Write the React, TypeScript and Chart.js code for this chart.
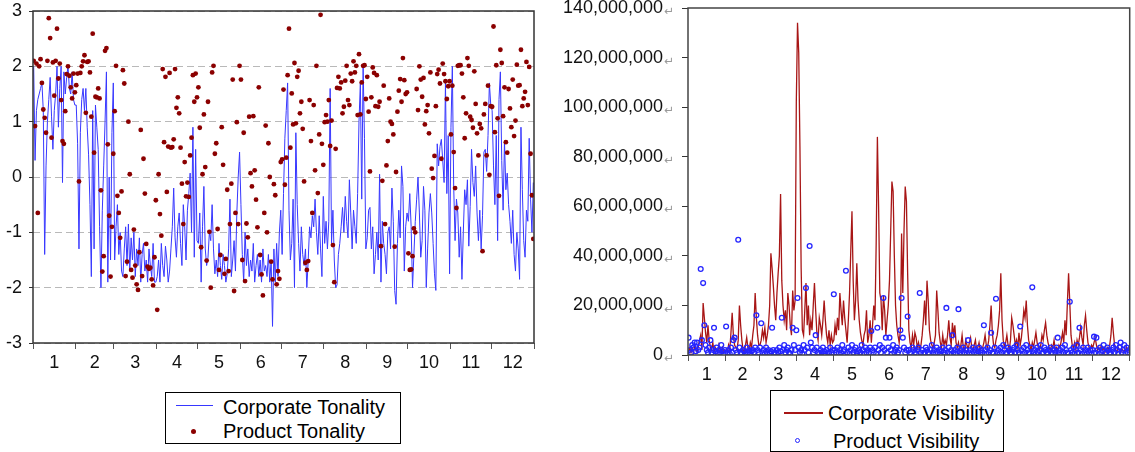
import React, { useEffect, useRef } from 'react';
import { Chart, registerables } from 'chart.js';

Chart.register(...registerables);

// ---------- data ----------
const MONTH_LABELS = ['1', '2', '3', '4', '5', '6', '7', '8', '9', '10', '11', '12'];
const MONTH_DAYS = [31, 28, 31, 30, 31, 30, 31, 31, 30, 31, 30, 31];
const TONALITY_TICKS = [-3, -2, -1, 0, 1, 2, 3];
const VISIBILITY_TICKS = [0, 20000000, 40000000, 60000000, 80000000, 100000000, 120000000, 140000000];

const CORPORATE_TONALITY = [
  // Jan
  2.0, 0.3, 1.2, 1.4, 1.5, 1.6, 1.7, 1.2, -1.4, 0.2, 1.0, 1.4, 1.8, 1.1, 0.5, 1.2, 1.5, 2.0, 0.9, 1.6,
  2.0, -0.1, 1.9, 1.5, 1.8, 2.0, 1.6, 1.5, 1.9, 1.4, 1.3,
  // Feb
  1.3, 0.6, -1.3, 0.8, 1.4, 1.6, 1.2, 1.6, 0.9, 0.4, -0.5, -1.8, 1.2, -1.3, 1.3, 0.9, 0.5, -0.9, -2.0, -0.6,
  0.2, 1.0, 1.9, -1.9, 0.0, -1.5, 0.8, 1.7,
  // Mar
  -1.5, -0.9, -0.5, -1.4, -1.0, -1.7, -1.8, -1.3, -0.9, -1.6, -0.85, -1.7, -1.1, -1.5, -1.0, -1.8, -1.3, -1.6, -1.1, -1.9,
  -1.4, -1.2, -1.7, -1.5, -1.9, -1.3, -1.6, -1.8, -1.2, -1.9, -1.9,
  // Apr
  -1.8, -1.5, -1.9, -1.2, -1.6, -1.8, -1.25, -1.5, -1.9, -1.7, -1.3, -0.9, -0.2, -1.1, -1.45, -0.9, -0.65, -1.2, -1.6, -0.5,
  -0.9, -1.5, -0.6, -0.3, 0.07, -1.0, 0.9, -1.45, 0.5, -1.15,
  // May
  -1.2, -0.65, -1.9, -0.9, -0.17, -1.3, -1.6, -1.45, -1.0, -1.15, -0.5, -1.3, -1.75, -1.5, -1.8, -1.2, -1.6, -1.85, -1.4, -1.6,
  -1.9, -1.75, -1.3, -0.4, -1.8, -1.5, -1.15, -1.7, -0.65, 0.0, 0.45,
  // Jun
  -0.5, -1.4, -1.9, -1.0, -1.6, -1.3, -1.8, -1.5, -1.7, -1.2, -1.9, -1.6, -1.4, -1.8, -1.5, -1.9, -1.3, -1.7, -1.6, -1.8,
  -1.4, -1.9, -1.5, -2.7, -1.3, -1.9, -1.2, -1.8, -1.0, -0.6,
  // Jul
  -1.4, -0.3, 0.7, 1.2, 1.7, -0.6, -1.5, -1.2, -0.4, -2.0, 0.8, -0.5, -1.2, -1.7, -0.9, -1.4, -1.6, -1.3, -2.0, -1.5,
  -0.9, -1.1, -0.7, -0.9, -0.4, -1.0, -1.4, -0.7, -1.3, -1.8, -0.35,
  // Aug
  -1.2, -0.8, -1.3, -0.8, 1.6, -1.2, -0.6, -1.5, -2.0, -1.95, -1.4, -1.2, -0.9, -0.55, -1.0, -0.35, -0.8, -1.1, -0.05, -0.65,
  -1.3, -0.6, -0.9, -1.2, -0.3, 1.0, 1.7, -0.4, 2.0, 0.7, -1.3,
  // Sep
  -1.1, -0.6, -0.55, -1.3, -0.9, -1.75, -1.4, -1.0, -1.5, 0.05, -1.9, -0.8, -1.2, -1.4, -1.75, -1.0, -0.9, -1.3, -0.2, -0.8,
  -2.05, -2.3, -1.2, -0.6, -1.1, 0.2, -0.17, -1.7, -0.9, -0.65,
  // Oct
  -0.8, -0.3, -0.9, -2.0, -1.4, -0.8, -0.4, 0.0, -0.65, -1.45, -1.15, -0.17, -0.6, -2.0, -1.3, -0.65, -0.3, -0.65, -1.2, -1.75,
  -2.05, 0.6, 0.2, 0.55, 0.68, 0.3, -0.1, 1.7, -0.3, 0.75, -1.75,
  // Nov
  0.9, 2.0, -0.17, -1.15, -0.4, -0.65, -1.45, -0.9, -1.85, -1.0, -0.23, -0.5, -0.05, -1.25, -0.53, 0.5, -0.1, -0.35, 0.2, -0.65,
  -1.15, -0.6, -1.3, -0.7, 0.45, 0.5, 0.1, 0.75, 1.7, 1.3,
  // Dec
  1.2, 0.2, -0.5, 0.75, -1.15, 1.4, 1.9, 0.3, -0.6, 0.65, -0.23, 0.07, -0.5, -0.8, -1.2, -0.6, -1.4, -1.7, -1.0, -1.3,
  -1.85, 0.9, -0.23, -1.15, -1.45, -0.6, -0.8, 0.7, -0.4, -1.0, -0.1,
];

const PRODUCT_TONALITY = [
  // Jan
  2.1, 0.92, 2.05, -0.65, 2.0, 2.13, 1.7, 1.22, 1.07, 0.8, 2.1, 2.87, 2.51, 0.71, 2.07, 1.47, 2.1, 2.68, 1.78, 2.05,
  1.39, 0.65, 0.6, 1.19, 1.86, 2.0, 1.83, 1.62, 1.42, 1.87, 1.53,
  // Feb
  1.66, 1.87, -0.08, 1.88, 2.0, 2.09, 2.2, 1.16, 2.08, 2.09, 1.89, 1.09, 2.59, 0.44, 1.45, 1.44, 1.6, 1.42, -0.24, -1.71,
  -1.43, 2.28, 2.33, 0.59, -0.7, -1.8, -0.9, 0.42,
  // Mar
  1.19, 2.01, -0.34, -0.65, -1.1, -0.26, 1.93, 1.69, -1.79, -1.53, 1.0, 0.05, -1.68, -1.82, -0.95, -1.6, -1.94, -2.04, -1.36, 0.85,
  -1.79, 0.33, -0.3, -1.21, -1.62, -1.66, -1.64, -1.85, -1.96, -1.45, -0.42,
  // Apr
  -2.4, 0.05, -0.67, -1.06, 1.95, 0.63, 1.81, -0.27, 0.55, 1.88, 0.53, 0.54, 0.68, 1.95, 1.25, 1.44, 1.15, 0.53, -0.12, -0.85,
  0.27, -0.35, -0.1, -0.36, 0.39, 0.71, 1.84, 1.36, 1.87, 1.44,
  // May
  1.62, 0.89, -1.27, 0.05, 1.13, 0.18, -1.51, 1.36, -0.99, -2.0, 1.89, 2.01, 0.42, 0.61, -0.94, -1.68, -1.41, 0.9, 0.22, -1.75,
  -1.48, -0.23, -1.7, -0.85, -0.12, 1.76, -2.06, -0.65, 0.99, -0.85, 2.01,
  // Jun
  1.76, -1.5, 0.8, -1.88, -0.84, -1.09, 1.09, 0.07, -0.17, 1.1, 0.12, -0.41, -0.91, 1.62, -1.41, -1.76, -2.14, -0.65, 0.93, -1.0,
  0.61, 0.0, -1.53, -1.85, -0.13, -0.33, -1.94, -1.7, -1.84, 0.27,
  // Jul
  0.32, 1.58, -0.14, 0.35, 1.84, 2.68, 0.53, 1.51, 0.95, 2.06, 0.97, 1.81, 1.92, 1.15, 1.36, 0.87, -0.08, -1.55, -1.68, -1.52,
  1.39, 0.65, -0.65, 1.3, 0.12, 2.01, -0.29, 0.77, 2.93, 0.6, 0.22,
  // Aug
  0.99, 1.12, 1.0, 1.39, 0.56, 1.02, -1.23, -1.9, 0.51, 1.61, 1.81, 1.6, 1.71, 1.15, 1.27, 1.74, 2.01, 1.39, 1.3, 1.87,
  1.73, 2.09, 1.89, 2.01, 1.12, 2.22, 1.13, 1.71, 2.01, 2.02, 1.41,
  // Sep
  1.81, 1.18, 0.1, 1.44, 1.98, 1.88, 1.28, 1.84, 1.27, 1.36, -1.25, -0.07, 1.65, -0.85, 0.21, 0.65, 1.42, 1.0, 0.96, 0.77,
  -1.26, 0.09, 1.18, 1.56, 1.77, 1.36, 2.15, 1.75, 1.5, 1.53,
  // Oct
  -1.38, -1.68, -1.67, -1.43, -0.93, -1.0, 1.59, 1.21, 2.0, 1.76, 1.45, 1.79, 0.95, 1.19, 1.3, 0.79, 1.89, 0.15, -0.02, 0.38,
  1.28, 1.86, 1.94, 1.69, 0.33, 2.05, 1.86, 1.73, 1.41, 1.64, 1.73,
  // Nov
  0.77, 1.65, 0.45, -0.2, -0.56, 2.01, 2.02, 2.02, 1.87, 1.44, 0.7, 1.15, 2.15, 2.01, 1.09, 1.03, 0.89, 1.91, 1.32, 0.79,
  0.39, 0.96, 0.88, -1.34, 1.13, 1.32, 0.39, 1.65, 0.04, 1.28,
  // Dec
  1.27, 2.72, 0.81, 2.02, 1.06, -0.34, 2.3, 2.06, 1.1, 1.62, 0.63, 0.44, 1.59, 1.24, 0.9, 1.76, 0.74, 1.02, 2.03, 1.65,
  1.66, 2.3, 1.28, 1.42, 1.54, 2.08, 1.3, 1.99, 0.42, -0.33, -1.12,
];

// millions
const CORPORATE_VISIBILITY_M = [
  // Jan
  1.5, 3, 1, 2.5, 0.8, 4, 2, 1.2, 3.5, 6, 8, 2, 21, 15, 9, 5, 12, 6, 3, 2, 5, 1.5, 3, 2, 1, 4, 2, 1.5, 3, 1, 2,
  // Feb
  2, 1, 4, 2, 9, 17, 8, 4, 3, 2, 6, 20, 12, 6, 2, 1, 4, 7, 3, 2, 5, 3, 8, 12, 25, 15, 8, 4,
  // Mar
  4, 6, 10, 7, 11, 5, 8, 12, 20, 41, 35, 28, 20, 14, 25, 33, 40, 65, 30, 20, 14, 18, 10, 25, 20, 12, 8, 26, 18, 22, 102,
  // Apr
  134, 122, 84, 35, 10, 8, 18, 29, 12, 20, 8, 14, 10, 20, 29, 18, 9, 6, 15, 12, 8, 14, 22, 14, 8, 5, 10, 4, 8, 5,
  // May
  6, 12, 8, 15, 10, 25, 18, 12, 22, 15, 10, 5, 14, 25, 42, 58, 30, 14, 22, 37, 22, 14, 9, 6, 4, 8, 10, 18, 5, 8, 14,
  // Jun
  5, 12, 20, 14, 45, 88, 60, 25, 22, 10, 24, 18, 8, 14, 20, 30, 50, 70, 66, 40, 20, 12, 8, 5, 10, 49, 25, 50, 68, 62,
  // Jul
  33, 10, 5, 3, 8, 4, 9, 7, 3, 5, 2, 4, 8, 14, 22, 12, 30, 22, 10, 6, 4, 3, 5, 8, 26, 18, 9, 5, 3, 8, 4,
  // Aug
  6, 4, 8, 14, 7, 4, 13, 8, 12, 5, 3, 5, 2, 4, 8, 3, 2, 6, 4, 2, 5, 7, 3, 2, 4, 6, 2, 3, 5, 2, 3,
  // Sep
  3, 5, 8, 4, 3, 6, 12, 20, 9, 4, 3, 6, 8, 12, 18, 33, 14, 6, 3, 5, 8, 4, 2, 6, 15, 12, 8, 4, 6, 3,
  // Oct
  9, 4, 7, 12, 18, 15, 22, 12, 6, 4, 2, 5, 3, 6, 9, 5, 3, 2, 4, 8, 6, 10, 13, 8, 5, 3, 2, 4, 3, 6, 2,
  // Nov
  3, 2, 4, 3, 6, 9, 5, 14, 8, 21, 33, 21, 8, 4, 3, 5, 2, 6, 4, 7, 11, 7, 4, 12, 16, 10, 5, 3, 2, 4,
  // Dec
  3, 5, 7, 4, 2, 3, 1.5, 4, 2, 3, 1, 2, 3, 2, 4, 8, 15, 9, 4, 2, 1.5, 3, 2, 1, 2.5, 1.5, 2, 1, 3, 1.5, 2,
];

// millions
const PRODUCT_VISIBILITY_M = [
  // Jan
  7, 2, 1, 4, 3, 5, 1.5, 5, 2, 3, 34.7, 6, 29, 12, 4, 2, 1, 3, 6, 1, 2, 11, 1.5, 3, 0.8, 2, 1, 4, 1.5, 0.5, 2,
  // Feb
  11.5, 1, 2, 0.5, 3, 1, 6, 7, 2, 1, 46.5, 3, 1, 0.5, 2, 1.5, 0.8, 3, 1, 2, 0.5, 1.5, 2, 1, 3, 16, 2, 1,
  // Mar
  3, 12.8, 1, 2, 0.5, 3, 1, 2, 0.8, 1.5, 11, 2, 1, 0.5, 2, 1, 3, 1.5, 15, 2, 4, 1, 2, 3, 1, 0.5, 2, 11, 4, 2, 10,
  // Apr
  23, 3, 1, 2, 0.5, 4, 2, 27, 3, 1, 44, 5, 3, 1, 2, 8, 3, 1, 0.5, 2, 1, 3, 1.5, 0.5, 2, 1, 0.8, 3, 1, 2,
  // May
  24.5, 2, 1, 3, 0.5, 2, 1, 4, 1.5, 2, 34, 1, 3, 0.5, 2, 4, 1, 2, 3, 0.8, 1.5, 2, 1, 4, 2, 0.5, 3, 1, 2, 1, 3,
  // Jun
  9.7, 2, 1, 3, 0.5, 11, 2, 4, 1, 3, 23, 2, 7, 1, 3, 7, 2, 0.5, 4, 1, 2, 3, 1, 2, 10, 23, 7, 3, 1, 2,
  // Jul
  15.5, 2, 1, 0.5, 3, 2, 1, 0.5, 2, 3, 25, 1, 2, 0.5, 1, 3, 2, 1, 0.5, 2, 4, 1, 2, 0.5, 3, 1, 2, 0.5, 1.5, 3, 1,
  // Aug
  2, 19, 1, 3, 0.5, 2, 8, 1, 2, 0.5, 3, 18.5, 1, 2, 0.5, 3, 1, 2, 0.5, 6, 1, 2, 0.5, 3, 1, 2, 0.5, 1.5, 3, 1, 2,
  // Sep
  1, 12, 2, 0.5, 3, 1, 2, 9, 1, 0.5, 3, 22.7, 1, 2, 0.5, 3, 1, 4, 2, 0.5, 1, 3, 2, 1, 0.5, 2, 3, 1, 4, 2,
  // Oct
  1, 11.5, 2, 0.5, 3, 1, 4, 2, 1, 0.5, 3, 27.3, 1, 2, 0.5, 3, 1, 2, 4, 0.5, 1, 3, 2, 1, 0.5, 2, 3, 1, 0.5, 2, 1,
  // Nov
  3, 7, 1, 2, 0.5, 3, 1, 4, 2, 1, 0.5, 21.5, 2, 1, 3, 0.5, 2, 4, 1, 11, 2, 0.5, 3, 1, 2, 0.5, 3, 1, 2, 0.5,
  // Dec
  2, 7.4, 1, 7, 2, 0.5, 3, 1, 2, 4, 0.5, 1, 3, 2, 1, 0.5, 2, 3, 1, 4, 2, 0.5, 3, 5, 1, 2, 4, 0.5, 3, 1, 2,
];

// ---------- helpers ----------
const FONT_FAMILY = '"Liberation Sans", Arial, sans-serif';
const MONTH_BOUNDS: number[] = MONTH_DAYS.reduce((acc: number[], d) => { acc.push(acc[acc.length - 1] + d); return acc; }, [0]);
const MONTH_MIDS: number[] = MONTH_LABELS.map((_, i) => (MONTH_BOUNDS[i] + MONTH_BOUNDS[i + 1]) / 2);

function toPoints(values: (number | null)[], scale = 1) {
  const pts: { x: number; y: number }[] = [];
  values.forEach((v, i) => {
    if (v !== null && v !== undefined) pts.push({ x: i + 0.5, y: v * scale });
  });
  return pts;
}

function noPadding(scale: any) {
  scale.paddingTop = 0;
  scale.paddingBottom = 0;
  scale.paddingLeft = 0;
  scale.paddingRight = 0;
}

function monthAxis(axisHeight: number, padding: number) {
  return {
    type: 'linear',
    min: 0,
    max: MONTH_BOUNDS[MONTH_BOUNDS.length - 1],
    afterBuildTicks: (scale: any) => {
      scale.ticks = [...MONTH_BOUNDS, ...MONTH_MIDS].sort((a, b) => a - b).map((v) => ({ value: v }));
    },
    afterFit: (scale: any) => { scale.height = axisHeight; noPadding(scale); },
    ticks: {
      autoSkip: false,
      maxRotation: 0,
      minRotation: 0,
      padding,
      color: '#111',
      font: { family: FONT_FAMILY, size: 18 },
      callback: (value: number) => {
        const i = MONTH_MIDS.indexOf(value);
        return i >= 0 ? MONTH_LABELS[i] : '';
      },
    },
    grid: {
      drawOnChartArea: false,
      drawTicks: true,
      tickLength: 6,
      tickWidth: 1,
      color: 'rgba(0,0,0,0)',
      tickColor: (ctx: any) => (ctx.tick && MONTH_BOUNDS.includes(ctx.tick.value) ? '#555' : 'rgba(0,0,0,0)'),
    },
    border: { display: false },
  };
}

const framePlugin = (color: string, width: number) => ({
  id: 'frame',
  afterDraw(chart: any) {
    const { ctx, chartArea: a } = chart;
    ctx.save();
    ctx.strokeStyle = color;
    ctx.lineWidth = width;
    ctx.strokeRect(a.left, a.top, a.right - a.left, a.bottom - a.top);
    ctx.restore();
  },
});

const returnMarkPlugin = {
  id: 'returnMark',
  afterDraw(chart: any) {
    const y = chart.scales.y;
    const { ctx } = chart;
    const right = y.right - 6 - 19;
    ctx.save();
    ctx.fillStyle = '#9a9a9a';
    ctx.font = `12px "DejaVu Sans", sans-serif`;
    ctx.textBaseline = 'middle';
    ctx.textAlign = 'left';
    y.ticks.forEach((t: any) => {
      ctx.fillText('\u21B5', right + 1, y.getPixelForValue(t.value) + 4);
    });
    ctx.restore();
  },
};

// ---------- charts ----------
function TonalityChart() {
  const ref = useRef<HTMLCanvasElement | null>(null);
  useEffect(() => {
    if (!ref.current) return;
    const chart = new Chart(ref.current, {
      type: 'scatter',
      data: {
        datasets: [
          {
            label: 'Product Tonality',
            data: toPoints(PRODUCT_TONALITY),
            pointRadius: 2.4,
            pointBackgroundColor: '#8b0000',
            pointBorderWidth: 0,
            showLine: false,
            order: 0,
          },
          {
            label: 'Corporate Tonality',
            data: toPoints(CORPORATE_TONALITY),
            showLine: true,
            borderColor: 'rgb(55,55,255)',
            borderWidth: 1,
            pointRadius: 0,
            tension: 0,
            order: 1,
          },
        ],
      },
      options: {
        responsive: false,
        animation: false,
        layout: { padding: { top: 11, right: 11, left: 0, bottom: 0 } },
        plugins: { legend: { display: false }, tooltip: { enabled: false } },
        scales: {
          x: monthAxis(42, 3) as any,
          y: {
            type: 'linear',
            min: -3,
            max: 3,
            afterBuildTicks: (scale: any) => { scale.ticks = TONALITY_TICKS.map((v) => ({ value: v })); },
            afterFit: (scale: any) => { scale.width = 33; noPadding(scale); },
            ticks: {
              padding: 7,
              color: '#111',
              font: { family: FONT_FAMILY, size: 18 },
              callback: (v: number) => String(v),
            },
            grid: {
              color: '#b9b9b9',
              lineWidth: 1,
              drawTicks: true,
              tickLength: 4,
              tickColor: '#333',
            },
            border: { display: false, dash: [7, 4] },
          },
        },
      },
      plugins: [framePlugin('#333', 1.5)],
    } as any);
    return () => chart.destroy();
  }, []);
  return <canvas ref={ref} width={545} height={385} style={{ position: 'absolute', left: 0, top: 0 }} />;
}

function VisibilityChart() {
  const ref = useRef<HTMLCanvasElement | null>(null);
  useEffect(() => {
    if (!ref.current) return;
    const chart = new Chart(ref.current, {
      type: 'scatter',
      data: {
        datasets: [
          {
            label: 'Product Visibility',
            data: toPoints(PRODUCT_VISIBILITY_M, 1000000),
            pointRadius: 2.4,
            pointBackgroundColor: 'rgba(255,255,255,0)',
            pointBorderColor: '#2525ff',
            pointBorderWidth: 1.3,
            showLine: false,
            order: 0,
          },
          {
            label: 'Corporate Visibility',
            data: toPoints(CORPORATE_VISIBILITY_M, 1000000),
            showLine: true,
            borderColor: 'rgb(168,22,22)',
            borderWidth: 1.3,
            pointRadius: 0,
            tension: 0,
            order: 1,
          },
        ],
      },
      options: {
        responsive: false,
        animation: false,
        layout: { padding: { top: 8, right: 2, left: 0, bottom: 0 } },
        plugins: { legend: { display: false }, tooltip: { enabled: false } },
        scales: {
          x: monthAxis(35, 3) as any,
          y: {
            type: 'linear',
            min: 0,
            max: 140000000,
            afterBuildTicks: (scale: any) => { scale.ticks = VISIBILITY_TICKS.map((v) => ({ value: v })); },
            afterFit: (scale: any) => { scale.width = 138; noPadding(scale); },
            ticks: {
              padding: 19,
              color: '#111',
              font: { family: FONT_FAMILY, size: 18 },
              callback: (v: number) => Number(v).toLocaleString('en-US'),
            },
            grid: {
              drawOnChartArea: false,
              drawTicks: true,
              tickLength: 6,
              tickColor: '#333',
              color: 'rgba(0,0,0,0)',
            },
            border: { display: false },
          },
        },
      },
      plugins: [framePlugin('#444', 1.5), returnMarkPlugin],
    } as any);
    return () => chart.destroy();
  }, []);
  return <canvas ref={ref} width={585} height={390} style={{ position: 'absolute', left: 550, top: 0 }} />;
}

const legendText: React.CSSProperties = {
  position: 'absolute',
  fontFamily: FONT_FAMILY,
  fontSize: 20,
  lineHeight: '22px',
  color: '#000',
  whiteSpace: 'nowrap',
};

export default function App() {
  return (
    <div style={{ position: 'fixed', left: 0, top: 0, width: 1135, height: 452, background: '#fff', overflow: 'hidden' }}>
      <TonalityChart />
      <VisibilityChart />
      {/* left legend */}
      <div style={{ position: 'absolute', left: 165, top: 392, width: 236, height: 52, border: '1px solid #000', boxSizing: 'border-box', background: '#fff' }}>
        <div style={{ position: 'absolute', left: 10, top: 12, width: 37, height: 1, background: 'rgb(55,55,255)' }} />
        <div style={{ ...legendText, left: 57, top: 3 }}>Corporate Tonality</div>
        <div style={{ position: 'absolute', left: 25, top: 36, width: 5, height: 5, borderRadius: '50%', background: '#8b0000' }} />
        <div style={{ ...legendText, left: 57, top: 27 }}>Product Tonality</div>
      </div>
      {/* right legend */}
      <div style={{ position: 'absolute', left: 770, top: 390, width: 234, height: 62, border: '1px solid #000', boxSizing: 'border-box', background: '#fff' }}>
        <div style={{ position: 'absolute', left: 13, top: 21, width: 39, height: 1.5, background: 'rgb(168,22,22)' }} />
        <div style={{ ...legendText, left: 57, top: 11 }}>Corporate Visibility</div>
        <div style={{ position: 'absolute', left: 24, top: 47, width: 5, height: 5, borderRadius: '50%', border: '1.2px solid #2525ff', boxSizing: 'border-box' }} />
        <div style={{ ...legendText, left: 62, top: 39 }}>Product Visibility</div>
      </div>
    </div>
  );
}
